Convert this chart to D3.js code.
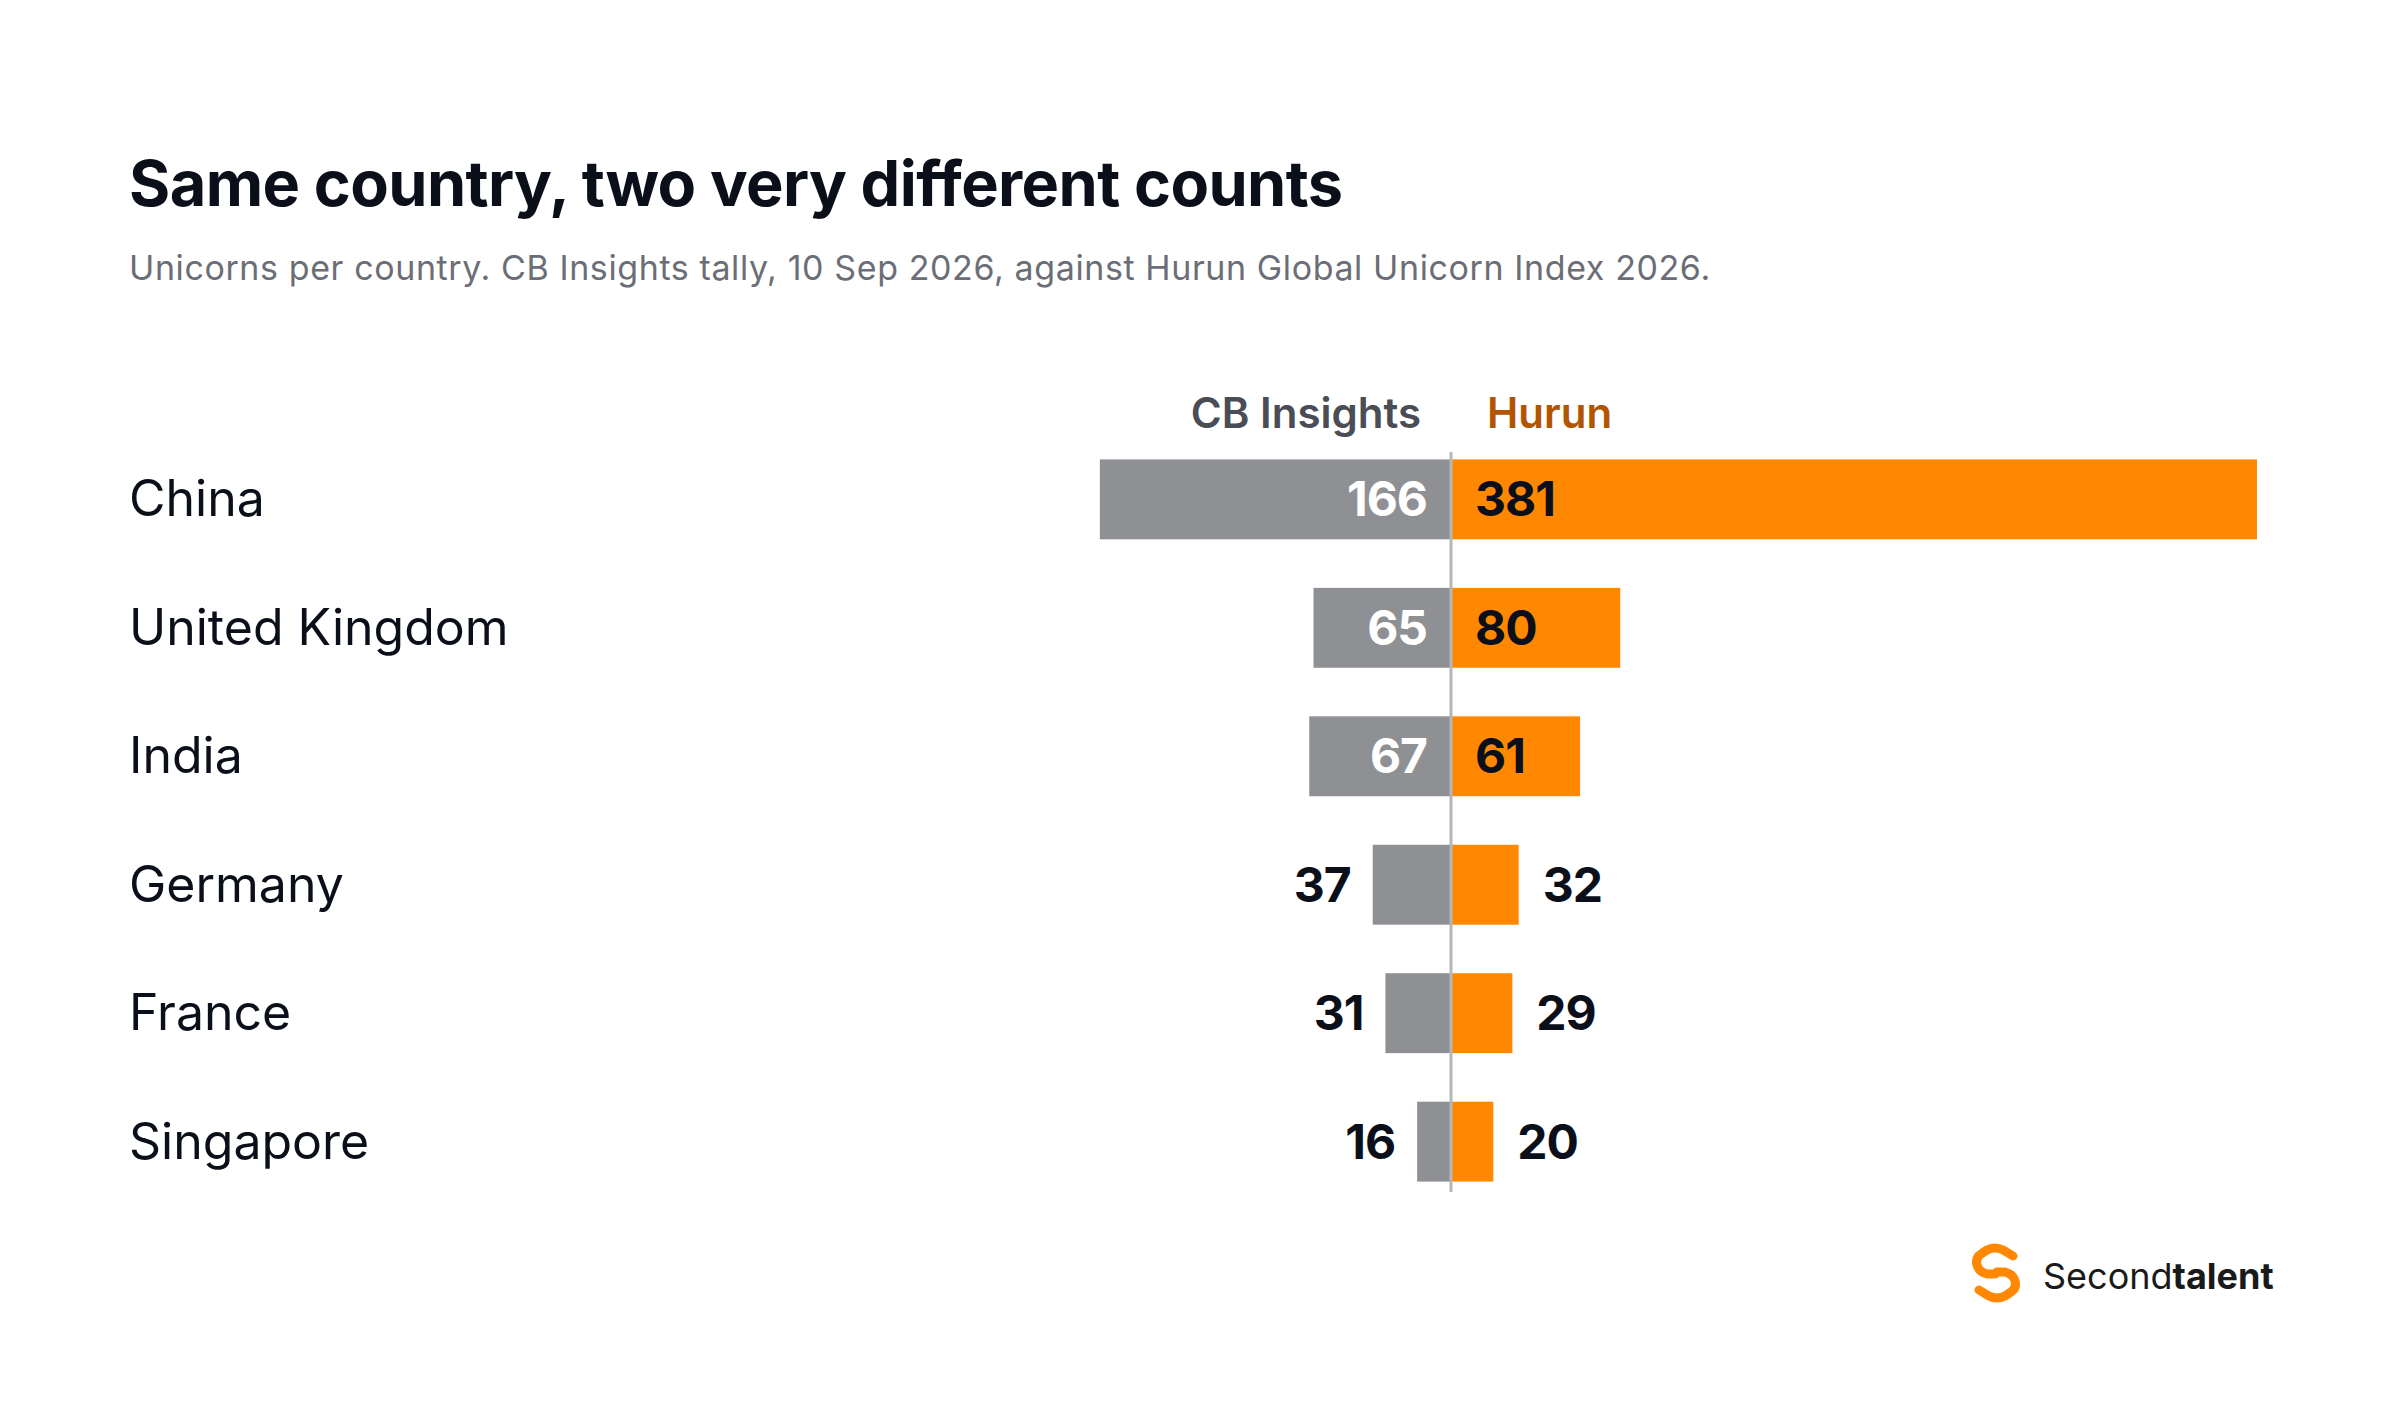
<!DOCTYPE html>
<html><head><meta charset="utf-8">
<script src="https://cdn.jsdelivr.net/npm/d3@7"></script>
<style>body{margin:0;background:#fff}svg{display:block}</style>
</head><body><svg id="c" width="2400" height="1416"></svg>
<script>
const countries = ["China","United Kingdom","India","Germany","France","Singapore"];
const cbInsights = [166,65,67,37,31,16];
const hurun = [381,80,61,32,29,20];
const seriesNames = ["CB Insights","Hurun"];

const svg = d3.select("#c");
const F = "Inter, 'Open Sans', sans-serif";
const cx = 1451;
const x = d3.scaleLinear().domain([0,381]).range([0,806]);
const y = d3.scaleBand().domain(countries).range([435,1206]).paddingInner(0.378).paddingOuter(0.19);

svg.append("text").attr("x",129).attr("y",206).attr("font-family",F).attr("font-weight",700)
  .attr("font-size",63).attr("fill","#0b0f19").attr("letter-spacing",-0.6).text("Same country, two very different counts");
svg.append("text").attr("x",129).attr("y",280).attr("font-family",F).attr("font-size",34)
  .attr("fill","#6b6e76").attr("letter-spacing",0.6).text("Unicorns per country. CB Insights tally, 10 Sep 2026, against Hurun Global Unicorn Index 2026.");

svg.append("text").attr("x",cx-30).attr("y",428).attr("text-anchor","end").attr("font-family",F)
  .attr("font-weight",600).attr("font-size",42).attr("fill","#4a4d55").text(seriesNames[0]);
svg.append("text").attr("x",cx+36).attr("y",428).attr("font-family",F)
  .attr("font-weight",600).attr("font-size",42).attr("fill","#b35400").text(seriesNames[1]);

const rows = countries.map((c,i)=>({c,a:cbInsights[i],b:hurun[i]}));
const g = svg.selectAll("g.row").data(rows).join("g");
g.append("text").attr("x",129).attr("y",d=>y(d.c)+y.bandwidth()/2+17).attr("font-family",F)
  .attr("font-size",50).attr("fill","#0b0f19").text(d=>d.c);
g.append("rect").attr("x",d=>cx-x(d.a)).attr("y",d=>y(d.c)).attr("width",d=>x(d.a)).attr("height",y.bandwidth()).attr("fill","#8f9094");
g.append("rect").attr("x",cx).attr("y",d=>y(d.c)).attr("width",d=>x(d.b)).attr("height",y.bandwidth()).attr("fill","#ff8800");
const inA = d=>x(d.a)>100, inB = d=>x(d.b)>100;
g.append("text").attr("x",d=>inA(d)?cx-24:cx-x(d.a)-22).attr("y",d=>y(d.c)+y.bandwidth()/2+17)
  .attr("text-anchor","end").attr("font-family",F).attr("font-weight",700).attr("font-size",48)
  .attr("fill",d=>inA(d)?"#fff":"#0b0f19").attr("letter-spacing",-1).text(d=>d.a);
g.append("text").attr("x",d=>inB(d)?cx+24:cx+x(d.b)+24).attr("y",d=>y(d.c)+y.bandwidth()/2+17)
  .attr("font-family",F).attr("font-weight",700).attr("font-size",48)
  .attr("fill","#0b0f19").attr("letter-spacing",-1).text(d=>d.b);

svg.append("line").attr("x1",cx).attr("x2",cx).attr("y1",452).attr("y2",1192)
  .attr("stroke","#b5b6b9").attr("stroke-width",3);

// logo
const lg = svg.append("g").attr("transform","translate(1975,1248)");
lg.append("path").attr("d","M38 8 L28 2 Q20 -2 12 2 L6 6 Q0 10 2 17 Q4 24 12 26 L20 26")
  .attr("fill","none").attr("stroke","#ff8800").attr("stroke-width",9).attr("stroke-linecap","round");
lg.append("path").attr("d","M4 42 L14 48 Q22 52 30 48 L36 44 Q42 40 40 33 Q38 26 30 24 L22 24")
  .attr("fill","none").attr("stroke","#ff8800").attr("stroke-width",9).attr("stroke-linecap","round");
const t = svg.append("text").attr("x",2043).attr("y",1289).attr("font-family",F).attr("font-size",36).attr("fill","#1a1a1a");
t.append("tspan").text("Second");
t.append("tspan").attr("font-weight",700).text("talent");
</script></body></html>
